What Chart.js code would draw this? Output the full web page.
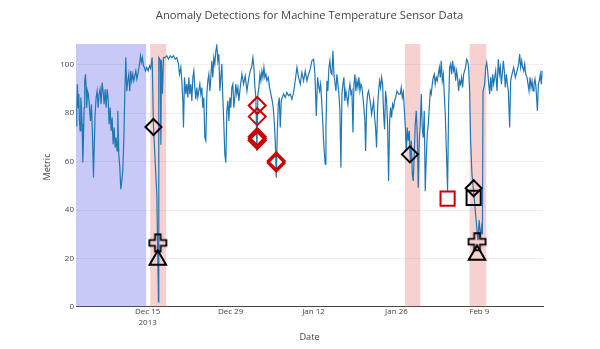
<!DOCTYPE html>
<html>
<head>
<meta charset="utf-8">
<script src="https://cdn.jsdelivr.net/npm/chart.js@4.4.1/dist/chart.umd.min.js"></script>
<style>
  html, body { margin: 0; padding: 0; background: #fff; }
  #wrap { width: 600px; height: 349px; }
</style>
</head>
<body>
<div id="wrap"><canvas id="anomalyChart"></canvas></div>
<script>
// x values are days since 2013-12-01 00:00
const days = [
  1.92, 2.03, 2.14, 2.26, 2.37, 2.48, 2.60, 2.71, 2.82, 2.93, 3.05, 3.16, 3.27, 3.38, 3.50, 3.61, 3.72, 3.84, 4.00, 4.17,
  4.34, 4.51, 4.68, 4.85, 4.96, 5.13, 5.30, 5.47, 5.64, 5.80, 5.97, 6.14, 6.31, 6.48, 6.65, 6.82, 6.99, 7.16, 7.32, 7.49,
  7.66, 7.83, 8.00, 8.17, 8.34, 8.51, 8.67, 8.84, 8.96, 9.13, 9.30, 9.46, 9.63, 9.80, 9.97, 10.14, 10.31, 10.48, 10.65, 10.81,
  10.98, 11.15, 11.32, 11.49, 11.66, 11.83, 12.00, 12.17, 12.39, 12.62, 12.79, 12.96, 13.12, 13.29, 13.46, 13.63, 13.86, 14.08, 14.31, 14.50,
  14.76, 14.98, 15.55, 15.82, 15.88, 16.11, 16.23, 16.33, 16.50, 16.67, 16.95, 17.24, 17.52, 17.80, 18.08, 18.36, 18.64, 18.92, 19.21, 19.37,
  19.60, 19.77, 19.94, 20.05, 20.22, 20.44, 20.61, 20.78, 20.95, 21.12, 21.29, 21.46, 21.63, 21.80, 21.96, 22.13, 22.30, 22.47, 22.64, 22.81,
  22.98, 23.15, 23.31, 23.48, 23.65, 23.82, 23.99, 24.16, 24.33, 24.50, 24.67, 24.84, 25.00, 25.17, 25.34, 25.51, 25.68, 25.85, 26.02, 26.19,
  26.36, 26.52, 26.69, 26.86, 27.03, 27.20, 27.37, 27.54, 27.71, 27.88, 28.04, 28.21, 28.38, 28.55, 28.72, 28.89, 29.06, 29.23, 29.40, 29.63,
  29.91, 30.19, 30.47, 30.76, 31.04, 31.32, 31.54, 31.77, 31.94, 32.11, 32.27, 32.44, 32.61, 32.78, 32.95, 33.12, 33.29, 33.46, 33.63, 33.80,
  33.96, 34.13, 34.36, 34.58, 34.81, 35.03, 35.20, 35.37, 35.54, 35.71, 35.88, 36.05, 36.22, 36.39, 36.55, 36.72, 36.95, 37.23, 37.51, 37.79,
  38.07, 38.36, 38.64, 38.92, 39.20, 39.48, 39.76, 40.04, 40.33, 40.61, 40.89, 41.17, 41.45, 41.73, 42.02, 42.24, 42.47, 42.69, 42.92, 43.03,
  43.20, 43.36, 43.53, 43.70, 43.87, 43.98, 44.10, 44.27, 44.43, 44.60, 44.77, 44.94, 45.11, 45.28, 45.45, 45.62, 45.79, 45.95, 46.12, 46.29,
  46.46, 46.63, 46.80, 46.97, 47.14, 47.30, 47.47, 47.64, 47.81, 47.98, 48.15, 48.32, 48.49, 48.66, 48.83, 48.99, 49.16, 49.33, 49.50, 49.67,
  49.84, 50.01, 50.18, 50.35, 50.51, 50.68, 50.80, 50.96, 51.13, 51.30, 51.47, 51.64, 51.81, 51.98, 52.15, 52.32, 52.48, 52.65, 52.82, 52.99,
  53.16, 53.33, 53.50, 53.67, 53.84, 54.00, 54.17, 54.34, 54.51, 54.68, 54.85, 55.02, 55.19, 55.36, 55.53, 55.69, 55.86, 56.09, 56.37, 56.65,
  56.82, 56.99, 57.16, 57.32, 57.49, 57.66, 57.83, 58.00, 58.17, 58.34, 58.51, 58.68, 58.84, 59.01, 59.18, 59.35, 59.52, 59.69, 59.86, 60.03,
  60.20, 60.36, 60.53, 60.70, 60.87, 61.04, 61.21, 61.38, 61.55, 61.72, 61.88, 62.05, 62.22, 62.39, 62.56, 62.73, 62.90, 63.07, 63.24, 63.41,
  63.57, 63.74, 63.91, 64.08, 64.25, 64.42, 64.64, 64.81, 64.98, 65.15, 65.32, 65.49, 65.66, 65.83, 66.00, 66.16, 66.33, 66.50, 66.67, 66.84,
  67.01, 67.18, 67.35, 67.51, 67.68, 67.85, 68.02, 68.19, 68.36, 68.53, 68.75, 69.10, 69.75, 69.97, 70.19, 70.38, 70.52, 70.62, 70.90, 71.07,
  71.24, 71.41, 71.58, 71.75, 71.91, 72.08, 72.25, 72.42, 72.59, 72.76, 72.98, 73.21, 73.38, 73.55, 73.72, 73.88, 74.05, 74.22, 74.39, 74.56,
  74.73, 74.90, 75.12, 75.29, 75.52, 75.80, 76.08, 76.36, 76.64, 76.81, 76.98, 77.15, 77.32, 77.49, 77.66, 77.83, 78.05, 78.22, 78.39, 78.56,
  78.73, 78.90, 79.07, 79.23, 79.40, 79.57, 79.80, 79.97, 80.13, 80.30, 80.47, 80.59
];
const metric = [
  74.8, 82.3, 92.0, 82.3, 87.9, 76.8, 72.7, 86.5, 82.3, 75.4, 59.6, 68.6, 82.3, 93.4, 96.1, 90.6, 82.3, 89.2, 87.9, 82.3,
  76.8, 83.7, 71.3, 53.4, 64.4, 79.6, 86.5, 89.2, 82.3, 87.9, 89.9, 83.7, 92.7, 89.2, 83.7, 89.9, 82.3, 89.9, 86.5, 75.4,
  82.3, 72.7, 78.2, 67.2, 74.1, 65.8, 69.9, 64.4, 81.0, 63.0, 57.5, 48.6, 52.0, 56.1, 68.6, 87.9, 103.0, 89.2, 93.4, 96.1,
  89.2, 97.5, 93.4, 96.1, 93.4, 95.4, 97.5, 94.1, 96.8, 100.3, 103.7, 101.0, 103.0, 99.6, 98.9, 97.5, 98.9, 97.5, 99.6, 98.5,
  103.0, 74.6, 46.0, 2.0, 103.0, 102.0, 67.0, 102.0, 88.0, 103.0, 103.0, 103.7, 102.3, 103.7, 103.0, 103.7, 102.3, 103.0, 100.3, 96.1,
  98.9, 93.4, 85.1, 74.1, 94.8, 87.9, 92.0, 86.5, 94.8, 87.9, 92.0, 85.1, 94.8, 97.5, 90.6, 85.8, 90.6, 86.5, 89.2, 92.0,
  87.9, 90.6, 82.3, 86.5, 69.9, 68.6, 87.9, 93.4, 96.1, 89.2, 94.8, 101.7, 94.8, 103.0, 100.3, 105.8, 108.0, 101.7, 104.4, 89.2,
  94.8, 100.3, 86.5, 75.4, 63.0, 59.6, 81.0, 85.1, 76.8, 86.5, 82.3, 90.6, 92.0, 82.3, 86.5, 92.0, 87.9, 90.6, 85.1, 90.6,
  96.1, 92.0, 95.4, 89.2, 94.1, 97.5, 98.9, 103.0, 98.9, 90.6, 86.5, 64.4, 87.9, 90.6, 96.1, 93.4, 97.5, 94.8, 98.9, 94.8,
  96.1, 93.4, 94.8, 90.6, 87.9, 85.1, 82.3, 76.8, 68.6, 53.4, 71.3, 83.7, 86.5, 74.1, 85.1, 86.5, 87.9, 86.5, 88.6, 87.2,
  87.9, 85.8, 88.6, 93.4, 98.9, 94.8, 92.0, 96.8, 93.4, 97.5, 93.4, 96.1, 98.2, 101.7, 102.3, 96.1, 78.9, 94.8, 90.6, 89.2,
  92.0, 85.8, 78.2, 68.6, 62.3, 58.9, 74.1, 93.4, 89.2, 98.9, 101.7, 96.8, 96.1, 105.8, 96.1, 92.7, 89.2, 96.1, 92.0, 87.9,
  81.0, 57.5, 87.9, 92.0, 94.8, 85.1, 89.2, 86.5, 83.7, 89.2, 92.0, 87.9, 89.2, 72.0, 92.0, 96.1, 89.2, 93.4, 90.6, 94.8,
  89.2, 92.0, 90.6, 86.5, 82.3, 76.8, 64.4, 82.3, 87.9, 89.2, 86.5, 83.7, 79.6, 82.3, 85.1, 78.2, 74.1, 65.8, 82.3, 89.2,
  93.4, 90.6, 94.8, 92.0, 79.6, 73.4, 89.2, 85.1, 75.4, 52.0, 76.8, 82.3, 78.2, 83.7, 82.3, 85.1, 86.5, 89.2, 87.9, 87.9,
  90.6, 86.5, 88.6, 82.3, 75.4, 64.4, 74.1, 68.6, 72.7, 60.3, 68.6, 54.8, 52.0, 63.0, 75.4, 81.0, 71.3, 49.2, 68.6, 75.4,
  87.9, 74.1, 69.9, 81.0, 47.8, 61.7, 71.3, 75.4, 82.3, 89.2, 87.9, 92.0, 94.8, 96.1, 92.0, 94.8, 93.4, 96.1, 98.9, 94.8,
  101.7, 93.4, 96.1, 87.9, 79.6, 65.8, 47.8, 82.3, 98.9, 100.3, 96.1, 101.7, 97.5, 98.9, 93.4, 97.5, 94.8, 89.2, 93.4, 92.0,
  94.8, 90.6, 96.1, 97.5, 98.9, 102.3, 101.7, 98.9, 89.2, 68.6, 55.0, 46.0, 27.5, 35.8, 28.9, 33.0, 30.0, 89.0, 92.0, 98.9,
  101.0, 97.5, 92.0, 87.9, 94.8, 89.2, 96.1, 92.0, 94.8, 97.5, 89.2, 102.3, 96.1, 98.9, 92.0, 96.1, 101.7, 97.5, 90.6, 96.1,
  92.0, 89.2, 74.1, 93.4, 96.1, 98.9, 94.8, 97.5, 100.3, 104.4, 98.9, 101.7, 98.9, 97.5, 100.3, 96.1, 94.8, 92.0, 89.2, 94.8,
  90.6, 93.4, 89.2, 92.0, 94.1, 90.6, 81.0, 92.0, 93.4, 96.1, 92.0, 97.5
];

// detections
const blackDiamondDays = [14.98, 58.28, 69.04];
const blackDiamondVals = [74.3, 63.0, 49.0];
const blackSquareDays = [69.04];
const blackSquareVals = [45.0];
const blackCrossDays = [15.72, 69.61];
const blackCrossVals = [26.4, 26.9];
const blackTriangleDays = [15.72, 69.61];
const blackTriangleVals = [19.3, 21.4];
const redDiamondDays = [32.5, 32.5, 32.5, 32.5, 32.5, 35.71, 35.71];
const redDiamondVals = [83.2, 78.6, 70.3, 69.5, 68.7, 60.3, 59.4];
const redSquareDays = [64.64];
const redSquareVals = [44.7];

// shaded windows [start, end] in days
const probationWindow = [1.9, 13.75];
const anomalyWindows = [[14.42, 17.13], [57.45, 60.03], [68.36, 71.18]];

const tickDays = [14, 28, 42, 56, 70];
const tickLabels = [['Dec 15', '2013'], 'Dec 29', 'Jan 12', 'Jan 26', 'Feb 9'];
const yTicks = [0, 20, 40, 60, 80, 100];

const titleText = 'Anomaly Detections for Machine Temperature Sensor Data';
const xTitle = 'Date';
const yTitle = 'Metric';

const FONT = '"Open Sans", "Noto Sans", sans-serif';

function pts(xs, ys) {
  return xs.map((x, i) => ({ x: x, y: ys[i] }));
}

function plusOpen(size, lw, color) {
  const c = document.createElement('canvas');
  c.width = c.height = Math.ceil(size + lw * 2);
  const g = c.getContext('2d');
  const cx = c.width / 2, cy = c.height / 2, h = size / 2, a = size / 6;
  g.beginPath();
  g.moveTo(cx - a, cy - h); g.lineTo(cx + a, cy - h); g.lineTo(cx + a, cy - a); g.lineTo(cx + h, cy - a);
  g.lineTo(cx + h, cy + a); g.lineTo(cx + a, cy + a); g.lineTo(cx + a, cy + h); g.lineTo(cx - a, cy + h);
  g.lineTo(cx - a, cy + a); g.lineTo(cx - h, cy + a); g.lineTo(cx - h, cy - a); g.lineTo(cx - a, cy - a);
  g.closePath();
  g.lineWidth = lw;
  g.strokeStyle = color;
  g.stroke();
  return c;
}

const windowsPlugin = {
  id: 'windows',
  beforeDatasetsDraw(chart) {
    const { ctx, chartArea: a, scales } = chart;
    const xs = scales.x;
    ctx.save();
    ctx.beginPath();
    ctx.rect(a.left, a.top, a.right - a.left, a.bottom - a.top);
    ctx.clip();
    ctx.fillStyle = 'rgba(100, 100, 235, 0.35)';
    let x0 = xs.getPixelForValue(probationWindow[0]);
    let x1 = xs.getPixelForValue(probationWindow[1]);
    ctx.fillRect(x0, a.top, x1 - x0, a.bottom - a.top);
    ctx.fillStyle = 'rgba(230, 100, 100, 0.3)';
    anomalyWindows.forEach(w => {
      x0 = xs.getPixelForValue(w[0]);
      x1 = xs.getPixelForValue(w[1]);
      ctx.fillRect(x0, a.top, x1 - x0, a.bottom - a.top);
    });
    ctx.restore();
  }
};

const textPlugin = {
  id: 'texts',
  afterDraw(chart) {
    const { ctx, chartArea: a } = chart;
    const cx = (a.left + a.right) / 2;
    ctx.save();
    ctx.fillStyle = '#444';
    ctx.textAlign = 'center';
    ctx.textBaseline = 'middle';
    ctx.font = '11.2px ' + FONT;
    ctx.fillText(titleText, cx, 16);
    ctx.font = '9.2px ' + FONT;
    ctx.fillText(xTitle, cx, 337);
    ctx.translate(47, 167);
    ctx.rotate(-Math.PI / 2);
    ctx.fillText(yTitle, 0, 0);
    ctx.restore();
  }
};

const marker = (data, style, radius, color) => ({
  type: 'scatter',
  data: data,
  pointStyle: style,
  pointRadius: radius,
  pointHoverRadius: radius,
  pointBorderColor: color,
  pointBackgroundColor: 'rgba(0,0,0,0)',
  pointBorderWidth: 2,
  showLine: false,
  order: 0
});

const ctx = document.getElementById('anomalyChart');

new Chart(ctx, {
  type: 'scatter',
  data: {
    datasets: [
      {
        label: 'Metric',
        data: pts(days, metric),
        showLine: true,
        borderColor: '#1f77b4',
        borderWidth: 1.2,
        pointRadius: 0,
        tension: 0,
        order: 1
      },
      marker(pts(redDiamondDays, redDiamondVals), 'rectRot', 8.5, '#cc0000'),
      marker(pts(redSquareDays, redSquareVals), 'rect', 10, '#cc0000'),
      marker(pts(blackDiamondDays, blackDiamondVals), 'rectRot', 8, '#000'),
      marker(pts(blackSquareDays, blackSquareVals), 'rect', 10, '#000'),
      marker(pts(blackCrossDays, blackCrossVals), plusOpen(17, 1.8, '#000'), 9, '#000'),
      marker(pts(blackTriangleDays, blackTriangleVals), 'triangle', 9.5, '#000')
    ]
  },
  options: {
    responsive: true,
    maintainAspectRatio: false,
    animation: false,
    layout: { padding: { left: 0, right: 57, top: 44, bottom: 0 } },
    plugins: {
      legend: { display: false },
      tooltip: { enabled: false },
      title: { display: false }
    },
    scales: {
      x: {
        type: 'linear',
        min: 1.9,
        max: 80.75,
        afterFit: s => { s.height = 42.2; },
        afterBuildTicks: s => { s.ticks = tickDays.map(v => ({ value: v })); },
        ticks: {
          autoSkip: false,
          maxRotation: 0,
          padding: 0,
          color: '#444',
          font: { family: FONT, size: 8, lineHeight: 1.3 },
          callback: (v, i) => tickLabels[i]
        },
        grid: { display: false, drawTicks: false },
        border: { display: true, color: '#444', width: 1 }
      },
      y: {
        min: 0,
        max: 108.6,
        afterFit: s => { s.width = 76; },
        afterBuildTicks: s => { s.ticks = yTicks.map(v => ({ value: v })); },
        ticks: {
          padding: 2,
          color: '#444',
          font: { family: FONT, size: 8 }
        },
        grid: {
          drawTicks: false,
          color: c => (c.tick && c.tick.value === 0) ? 'rgba(0,0,0,0)' : '#eeeeee',
          lineWidth: 1
        },
        border: { display: false }
      }
    }
  },
  plugins: [windowsPlugin, textPlugin]
});
</script>
</body>
</html>
